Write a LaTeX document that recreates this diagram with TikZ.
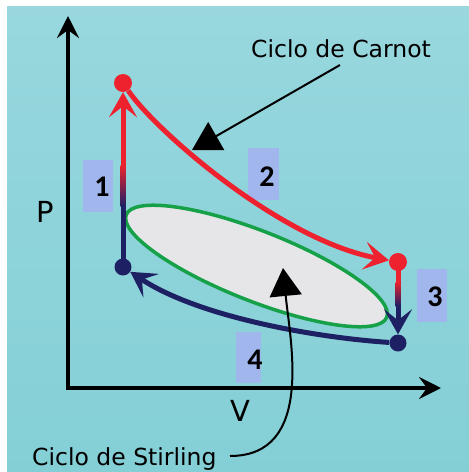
\documentclass[tikz,border=0pt]{standalone}
\usepackage{fontspec}
\setmainfont{DejaVu Sans}
\newfontfamily\numfont{Carlito}
\usetikzlibrary{arrows.meta,shapes.geometric}
\definecolor{bgtop}{RGB}{152,215,222}
\definecolor{bgbot}{RGB}{132,207,214}
\definecolor{cred}{RGB}{237,34,46}
\definecolor{cnavy}{RGB}{30,32,100}
\definecolor{cgreen}{RGB}{22,160,72}
\definecolor{cgray}{RGB}{230,230,233}
\definecolor{cbox}{RGB}{160,182,236}
\begin{document}
\begin{tikzpicture}[x=1pt,y=-1pt,
  axis/.style={line width=3.5pt,
    {Stealth[length=22pt,width=22pt,inset=8pt]}-{Stealth[length=22pt,width=22pt,inset=8pt]}},
  proc/.style={line width=5pt, -{Stealth[length=25pt,width=28pt,inset=11pt]}},
  dot/.style={circle, inner sep=0pt, minimum size=#1},
  numbox/.style={fill=cbox, inner sep=0pt},
  num/.style={font=\numfont\bfseries\fontsize{30}{30}\selectfont, inner sep=0pt},
  lab/.style={font=\fontsize{23.5}{24}\selectfont, inner sep=0pt},
  axlab/.style={font=\fontsize{29}{29}\selectfont, inner sep=0pt},
  pointer/.style={line width=2pt, -{Triangle[length=28pt,width=32pt]}}]
\useasboundingbox (0,0) rectangle (469,472);
\fill[white] (0,0) rectangle (469,472);
\shade[top color=bgtop, bottom color=bgbot] (7,6) rectangle (469,472);
% axes
\coordinate (O) at (68,388);
\coordinate (ytip) at (68,16);
\coordinate (xtip) at (441,388);
\draw[axis] (ytip) -- (O) -- (xtip);
\node[axlab, anchor=base] (P) at (45,222) {P};
\node[axlab, anchor=base] (V) at (240,421) {V};
% number boxes
\node[numbox, minimum width=30pt, minimum height=52pt] (b1) at (98,186) {};
\node[numbox, minimum width=31pt, minimum height=52pt] (b2) at (263.5,174) {};
\node[numbox, minimum width=30pt, minimum height=53pt] (b3) at (432,295.5) {};
\node[numbox, minimum width=25pt, minimum height=51pt] (b4) at (248.5,357.5) {};
\node[num] (t1) at (102,187) {1};
\node[num] (t2) at (267,177) {2};
\node[num] (t3) at (435,297) {3};
\node[num] (t4) at (255,360) {4};
% Stirling cycle
\node[ellipse, draw=cgreen, fill=cgray, line width=3.5pt, inner sep=0pt,
      minimum width=280pt, minimum height=70pt, rotate=-21.5] (ell) at (256.5,266) {};
% state points
\node[dot=18pt, fill=cred] (c1) at (123,83) {};
\node[dot=18pt, fill=cred] (c2) at (398,262) {};
\node[dot=17pt, fill=cnavy] (n1) at (123,267) {};
\node[dot=17pt, fill=cnavy] (n2) at (398,343) {};
% process 1
\draw[proc, cred] (n1) -- (c1);
\shade[bottom color=cnavy, top color=cred] (120.5,165) rectangle (125.5,206);
\fill[cnavy] (120.5,206) rectangle (125.5,262);
% process 2
\draw[proc, cred] (c1) .. controls (155,130) and (280,240) .. (c2);
% process 3
\draw[proc, cnavy] (c2) -- (n2);
\fill[cred] (395.5,268) rectangle (400.5,282);
\shade[top color=cred, bottom color=cnavy] (395.5,282) rectangle (400.5,306);
% process 4
\draw[proc, cnavy] (n2) .. controls (320,338) and (200,318) .. (n1);
% labels with pointers
\node[lab, anchor=base west] (carnot) at (251,57) {Ciclo de Carnot};
\coordinate (cstart) at (340,65);
\coordinate (ctip) at (192,150);
\draw[pointer] (cstart) -- (ctip);
\node[lab, anchor=base west] (stirling) at (32,465) {Ciclo de Stirling};
\coordinate (sstart) at (230,456);
\coordinate (stip) at (283,268);
\draw[pointer] (sstart) .. controls (315,456) and (290,340) .. (stip);
\end{tikzpicture}
\end{document}
